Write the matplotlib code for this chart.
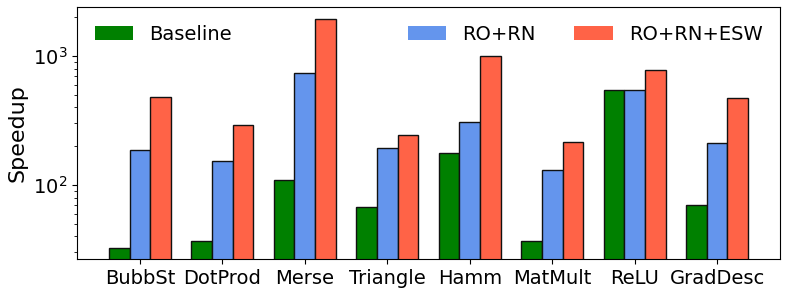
import matplotlib
matplotlib.use("Agg")
import matplotlib.pyplot as plt
import numpy as np
from matplotlib.patches import Patch

categories = ["BubbSt", "DotProd", "Merse", "Triangle", "Hamm", "MatMult", "ReLU", "GradDesc"]
baseline = [32.7, 37, 109, 68, 178, 36.8, 548, 69.7]
ro_rn = [186, 153, 738, 194, 306, 131, 548, 211]
ro_rn_esw = [481, 292, 1923, 245, 1005, 214, 774, 476]
series_names = ["Baseline", "RO+RN", "RO+RN+ESW"]
colors = ["green", "cornflowerblue", "tomato"]

fig = plt.figure(figsize=(7.88, 2.94), dpi=100)
ax = fig.add_axes([77/788, 1-259/294, (780-77)/788, (259-7)/294])
x = np.arange(len(categories))
w = 0.25
for i, (vals, c) in enumerate(zip([baseline, ro_rn, ro_rn_esw], colors)):
    ax.bar(x + (i-1)*w, vals, w, color=c, edgecolor="#111111", linewidth=1.0)
ax.set_yscale("log")
ax.set_ylim(26.7, 2400)
ax.set_xticks(x)
ax.set_xticklabels(categories, fontsize=14)
ax.tick_params(axis="y", labelsize=14)
ax.set_ylabel("Speedup", fontsize=16)
handles = [Patch(facecolor=c, edgecolor="none") for c in colors]
leg1 = ax.legend(handles[:1], series_names[:1], loc="upper left", frameon=False, fontsize=14)
ax.add_artist(leg1)
ax.legend(handles[1:], series_names[1:], ncol=2, loc="upper right", frameon=False, fontsize=14)
fig.savefig("out.png", dpi=100)
